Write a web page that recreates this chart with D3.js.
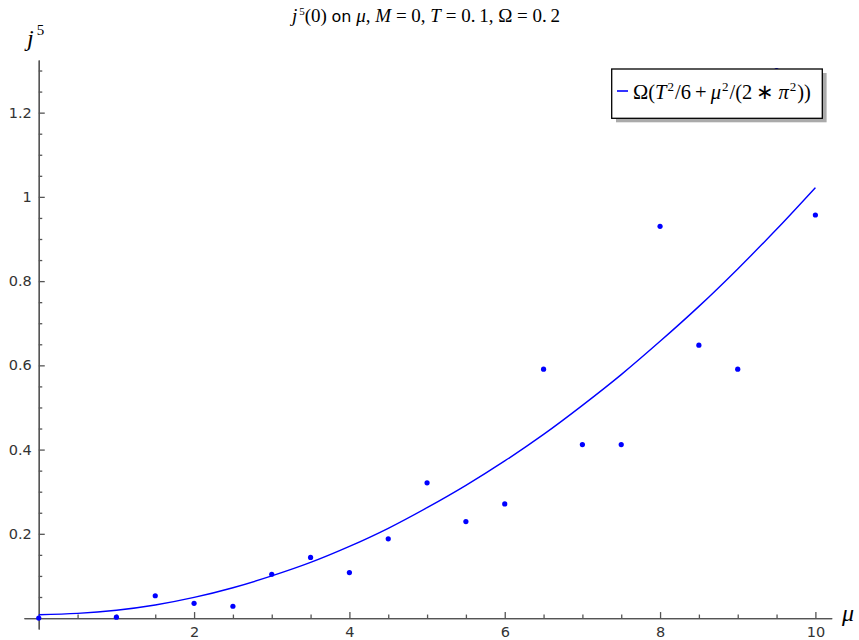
<!DOCTYPE html>
<html>
<head>
<meta charset="utf-8">
<script src="https://cdn.jsdelivr.net/npm/d3@7"></script>
<style>
  body { margin: 0; background: #fff; }
  .tick text { font-family: "DejaVu Sans", sans-serif; font-size: 14.5px; fill: #333; }
  .math { font-family: "Liberation Serif", serif; }
</style>
</head>
<body>
<div id="chart"></div>
<script>
// measured points j5(0) vs mu
let mu_pts = [0, 1, 1.5, 2, 2.5, 3, 3.5, 4, 4.5, 5, 5.5, 6, 6.5, 7, 7.5, 8, 8.5, 9, 9.5, 10];
let j5_pts = [0, 0.002, 0.053, 0.035, 0.028, 0.104, 0.144, 0.108, 0.188, 0.321, 0.229, 0.271,
              0.591, 0.412, 0.412, 0.930, 0.648, 0.591, 1.30, 0.957];

// fitted curve
let mu_curve = [0, 0.5, 1, 1.5, 2, 2.5, 3, 3.5, 4, 4.5, 5, 5.5, 6, 6.5, 7, 7.5, 8, 8.5, 9, 9.5, 10];
let j5_curve = [0.008, 0.011, 0.0185, 0.031, 0.049, 0.072, 0.100, 0.132, 0.170, 0.213, 0.262,
                0.315, 0.373, 0.436, 0.505, 0.578, 0.657, 0.740, 0.829, 0.923, 1.022];

let x_major = [2, 4, 6, 8, 10];
let x_minor = [0.5, 1, 1.5, 2.5, 3, 3.5, 4.5, 5, 5.5, 6.5, 7, 7.5, 8.5, 9, 9.5];
let y_major = [0.2, 0.4, 0.6, 0.8, 1, 1.2];
let y_minor = [0.05, 0.1, 0.15, 0.25, 0.3, 0.35, 0.45, 0.5, 0.55, 0.65, 0.7, 0.75,
               0.85, 0.9, 0.95, 1.05, 1.1, 1.15, 1.25, 1.3];

let width = 859, height = 640;

let svg = d3.select("#chart").append("svg")
            .attr("width", width)
            .attr("height", height);

let x = d3.scaleLinear().domain([-0.19, 10.21]).range([24, 831.7]);
let y = d3.scaleLinear().domain([-0.026, 1.325]).range([629, 60]);

let axis_color = "#555";

// x axis (minor + major)
let gx = svg.append("g").attr("transform", "translate(0," + y(0) + ")");
gx.append("g")
  .call(d3.axisBottom(x).tickValues(x_minor).tickSize(-3.5).tickSizeOuter(0).tickFormat(""));
gx.append("g")
  .call(d3.axisBottom(x).tickValues(x_major).tickSize(-6).tickSizeOuter(0).tickPadding(9)
          .tickFormat(d => String(d)));

// y axis
let gy = svg.append("g").attr("transform", "translate(" + x(0) + ",0)");
gy.append("g")
  .call(d3.axisLeft(y).tickValues(y_minor).tickSize(-3.5).tickSizeOuter(0).tickFormat(""));
gy.append("g")
  .call(d3.axisLeft(y).tickValues(y_major).tickSize(-6).tickSizeOuter(0).tickPadding(7)
          .tickFormat(d => String(+d.toFixed(2))));

svg.selectAll(".domain, .tick line")
   .attr("stroke", axis_color)
   .attr("stroke-width", 1.3);

// curve
let line = d3.line()
             .x((d, i) => x(mu_curve[i]))
             .y(d => y(d))
             .curve(d3.curveMonotoneX);

svg.append("path")
   .datum(j5_curve)
   .attr("d", line)
   .style("fill", "none")
   .style("stroke", "#0000ff")
   .style("stroke-width", 1.4);

// points
svg.selectAll("circle.pt")
   .data(j5_pts)
   .enter()
   .append("circle")
   .attr("class", "pt")
   .attr("cx", (d, i) => x(mu_pts[i]))
   .attr("cy", d => y(d))
   .attr("r", 2.6)
   .style("fill", "#0000ff");

// axis labels
let ylab = svg.append("text").attr("class", "math")
              .attr("x", 27).attr("y", 46)
              .style("font-size", "24px");
ylab.append("tspan").style("font-style", "italic").text("j");
ylab.append("tspan").attr("dx", 3).attr("dy", -11).style("font-size", "15px").text("5");

svg.append("text").attr("class", "math")
   .attr("x", 842).attr("y", 621)
   .style("font-size", "24px")
   .style("font-style", "italic")
   .text("μ");

// title
let title = svg.append("text").attr("class", "math")
               .attr("x", 426).attr("y", 22)
               .attr("text-anchor", "middle")
               .style("font-size", "19px");
title.append("tspan").style("font-style", "italic").text("j");
title.append("tspan").attr("dx", 2).attr("dy", -7).style("font-size", "11px").text("5");
title.append("tspan").attr("dy", 7).text("(0) ");
title.append("tspan").style("font-family", "DejaVu Sans, sans-serif").style("font-size", "16px").text("on");
title.append("tspan").style("font-style", "italic").text(" μ");
title.append("tspan").text(", ");
title.append("tspan").style("font-style", "italic").text("M");
title.append("tspan").text("\u2005=\u20050, ");
title.append("tspan").style("font-style", "italic").text("T");
title.append("tspan").text("\u2005=\u20050.\u20091, Ω\u2005=\u20050.\u20092");

// legend
let lg = svg.append("g");
lg.append("rect")
  .attr("x", 616).attr("y", 73).attr("width", 210.6).attr("height", 49.3)
  .style("fill", "#aaa");
lg.append("rect")
  .attr("x", 611.7).attr("y", 69).attr("width", 210.6).attr("height", 49.3)
  .style("fill", "#fff")
  .style("stroke", "#000")
  .style("stroke-width", 1.3);
lg.append("line")
  .attr("x1", 617).attr("x2", 628).attr("y1", 91).attr("y2", 91)
  .style("stroke", "#0000ff")
  .style("stroke-width", 1.6);
let lt = lg.append("text").attr("class", "math")
           .attr("x", 633).attr("y", 99)
           .style("font-size", "20.5px");
lt.append("tspan").text("Ω(");
lt.append("tspan").style("font-style", "italic").text("T");
lt.append("tspan").attr("dx", 1).attr("dy", -8).style("font-size", "13px").text("2");
lt.append("tspan").attr("dx", 1).attr("dy", 8).text("/6\u2009+\u2009");
lt.append("tspan").style("font-style", "italic").text("μ");
lt.append("tspan").attr("dx", 1).attr("dy", -8).style("font-size", "13px").text("2");
lt.append("tspan").attr("dx", 1).attr("dy", 8).text("/(2\u2009∗\u2009");
lt.append("tspan").style("font-style", "italic").text("π");
lt.append("tspan").attr("dx", 1).attr("dy", -8).style("font-size", "13px").text("2");
lt.append("tspan").attr("dx", 1).attr("dy", 8).text("))");
</script>
</body>
</html>
